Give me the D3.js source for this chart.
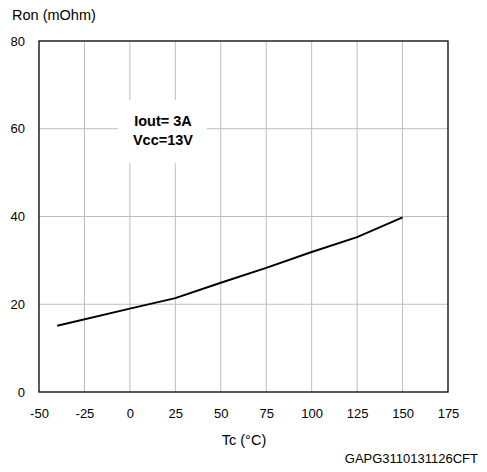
<!DOCTYPE html>
<html><head><meta charset="utf-8">
<script src="https://cdn.jsdelivr.net/npm/d3@7"></script>
<style>body{margin:0;background:#fff}svg{display:block}text{font-family:"Liberation Sans",Arial,sans-serif}</style>
</head><body>
<script>
const temps = [-40, 0, 25, 50, 75, 100, 125, 150];
const ron = [15.1, 19.0, 21.4, 24.9, 28.3, 31.9, 35.3, 39.8];
const xTicks = [-50, -25, 0, 25, 50, 75, 100, 125, 150, 175];
const yTicks = [0, 20, 40, 60, 80];
const noteLines = ["Iout= 3A", "Vcc=13V"];

const W = 487, H = 472;
const m = {l: 39, r: 39, t: 41, b: 80};
const svg = d3.select("body").append("svg").attr("width", W).attr("height", H);
const x = d3.scaleLinear().domain([-50, 175]).range([m.l, W - m.r]);
const y = d3.scaleLinear().domain([0, 80]).range([H - m.b, m.t]);

// grid
svg.append("g").selectAll("line").data(xTicks.slice(1, -1)).join("line")
  .attr("x1", d => x(d)).attr("x2", d => x(d)).attr("y1", y(0)).attr("y2", y(80))
  .attr("stroke", "#bdbdbd").attr("stroke-width", 1);
svg.append("g").selectAll("line").data(yTicks.slice(1, -1)).join("line")
  .attr("y1", d => y(d)).attr("y2", d => y(d)).attr("x1", x(-50)).attr("x2", x(175))
  .attr("stroke", "#bdbdbd").attr("stroke-width", 1);

// note box
svg.append("rect").attr("x", 118).attr("y", 100).attr("width", 89).attr("height", 63).attr("fill", "#fff");
svg.append("g").selectAll("text").data(noteLines).join("text")
  .attr("x", 163).attr("y", (d, i) => 126 + i * 19).attr("text-anchor", "middle")
  .attr("font-size", 14.5).attr("font-weight", "bold").attr("fill", "#000").text(d => d);

// frame
svg.append("rect").attr("x", x(-50)).attr("y", y(80)).attr("width", x(175) - x(-50)).attr("height", y(0) - y(80))
  .attr("fill", "none").attr("stroke", "#000").attr("stroke-width", 1.3);

// axes
const xa = svg.append("g").attr("transform", `translate(0,${y(0)})`)
  .call(d3.axisBottom(x).tickValues(xTicks).tickFormat(d => String(d)).tickSize(0).tickPadding(17));
xa.select(".domain").remove();
xa.selectAll("text").attr("font-size", 13).attr("font-family", "Liberation Sans, Arial, sans-serif").attr("fill", "#000");
const ya = svg.append("g").attr("transform", `translate(${m.l},0)`)
  .call(d3.axisLeft(y).tickValues(yTicks).tickFormat(d => String(d)).tickSize(0).tickPadding(14));
ya.select(".domain").remove();
ya.selectAll("text").attr("font-size", 13).attr("font-family", "Liberation Sans, Arial, sans-serif").attr("fill", "#000");

// line
svg.append("path").datum(temps.map((t, i) => [t, ron[i]]))
  .attr("d", d3.line().x(d => x(d[0])).y(d => y(d[1])))
  .attr("fill", "none").attr("stroke", "#000").attr("stroke-width", 2);

// labels
svg.append("text").attr("x", 12).attr("y", 20).attr("font-size", 14.5).text("Ron (mOhm)");
svg.append("text").attr("x", 244).attr("y", 445).attr("text-anchor", "middle").attr("font-size", 14.5).text("Tc (°C)");
svg.append("text").attr("x", 478).attr("y", 463).attr("text-anchor", "end").attr("font-size", 13)
  .attr("font-family", "Open Sans, sans-serif").text("GAPG3110131126CFT");
</script>
</body></html>
